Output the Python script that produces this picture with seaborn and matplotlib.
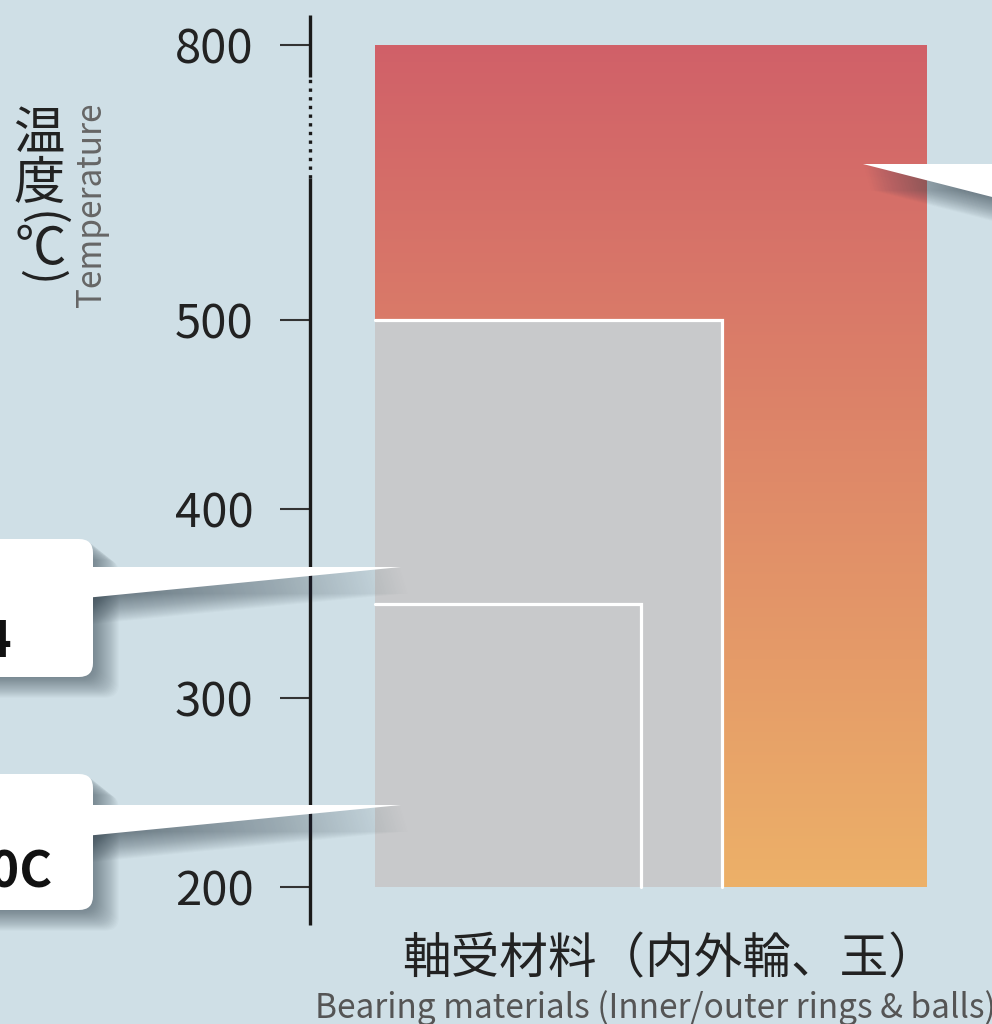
import numpy as np
import seaborn as sns
import matplotlib.pyplot as plt
from matplotlib.colors import LinearSegmentedColormap
from matplotlib.patches import FancyBboxPatch, Polygon

# max operating temperature of each bearing material (deg C)
materials = ["SUS440C", "SKH4", "Si3N4"]
temp_max = [350, 500, 800]
temp_min = 200
yticks = [200, 300, 400, 500, 800]

BG = "#cfdfe6"
GRAY = "#c8c9cb"
INK = "#222222"

sns.set_theme(style="ticks", rc={"figure.facecolor": BG, "axes.facecolor": BG})
plt.rcParams['font.family'] = ['Noto Sans CJK JP', 'DejaVu Sans']

# broken axis: the 500-800 part is squeezed
K = 0.485
def fwd(v):
    v = np.asarray(v, float)
    return np.where(v <= 500, v, 500 + (v - 500) * K)

def inv(t):
    t = np.asarray(t, float)
    return np.where(t <= 500, t, 500 + (t - 500) / K)

fig = plt.figure(figsize=(9.92, 10.24), dpi=100)
ax = fig.add_axes([310 / 992, 99 / 1024, 682 / 992, 910 / 1024])
ax.set_yscale('function', functions=(fwd, inv))
ax.set_xlim(0, 682)
ax.set_ylim(179.9, 832.8)

bar_left = 65
bar_right = [331, 412, 617]

# gradient bar (top material), colour linear in screen height
t = np.linspace(fwd(temp_min), fwd(temp_max[2]), 300)
cmap = LinearSegmentedColormap.from_list("heat", ["#ecb068", "#d06068"])
ax.pcolormesh([bar_left, bar_right[2]], inv(t), ((t[:-1] + t[1:]) / 2)[:, None],
              cmap=cmap, shading='flat', zorder=1)

# grey bars with white top/right outline
for i in [1, 0]:
    w = bar_right[i] - bar_left
    ax.bar(bar_left, temp_max[i] - temp_min, bottom=temp_min, width=w,
           align='edge', color=GRAY, linewidth=0, zorder=2)
    ax.plot([bar_left, bar_right[i], bar_right[i]], [temp_max[i], temp_max[i], temp_min],
            color='white', lw=2.3, solid_joinstyle='miter', zorder=3)

# axis line with a dotted break
sns.despine(ax=ax, left=True, bottom=True)
ax.plot([0, 0], [0, 0.8209], transform=ax.transAxes, color='#1a1a1a', lw=2.4,
        solid_capstyle='butt', clip_on=False)
ax.plot([0, 0], [0.9319, 1], transform=ax.transAxes, color='#1a1a1a', lw=2.4,
        solid_capstyle='butt', clip_on=False)
ax.plot([0, 0], [0.8209, 0.9319], transform=ax.transAxes, color='#1a1a1a', lw=2.4,
        linestyle=(0, (1, 1.6)), dash_capstyle='butt', clip_on=False)

ax.set_yticks(yticks)
ax.set_yticklabels([str(v) for v in yticks])
ax.minorticks_off()
ax.tick_params(axis='y', length=21.6, width=1.5, color='#333333', pad=19,
               labelsize=34, labelcolor=INK)
ax.set_xticks([])

# overlay in pixel coordinates for callouts and labels
ov = fig.add_axes([0, 0, 1, 1], zorder=5)
ov.set_xlim(0, 992)
ov.set_ylim(1024, 0)
ov.axis('off')
ov.patch.set_alpha(0)

def callout(box, wedge, label=None, lx=0, ly=0):
    wedge = np.array(wedge, float)
    # soft drop shadow from many faint offset copies
    for i in range(26):
        d = 1 + i * 1.0
        if box is not None:
            x0, y0, x1, y1 = box
            ov.add_patch(FancyBboxPatch((x0 + d, y0 + d * 0.8), x1 - x0, y1 - y0,
                                        boxstyle="round,pad=0,rounding_size=14",
                                        fc="#2e3d48", ec='none', alpha=0.025))
        ov.add_patch(Polygon(wedge + [d * 0.3, d], closed=True, fc="#2e3d48",
                             ec='none', alpha=0.028))
    if box is not None:
        x0, y0, x1, y1 = box
        ov.add_patch(FancyBboxPatch((x0, y0), x1 - x0, y1 - y0,
                                    boxstyle="round,pad=0,rounding_size=14",
                                    fc="white", ec='none'))
    ov.add_patch(Polygon(wedge, closed=True, fc="white", ec='none'))
    if label:
        ov.text(lx, ly, label, ha='right', va='baseline', fontsize=36,
                fontweight='bold', color='#111111')

callout((-60, 539, 93, 677), [(85, 567), (401, 567), (85, 598)], materials[1], 12, 657)
callout((-60, 774, 93, 910), [(85, 805), (401, 805), (85, 836)], materials[0], 53, 888)
callout(None, [(863, 164), (1000, 164), (1000, 199)])

# y label, vertical Japanese + rotated English
ov.text(39, 134, "温", ha='center', va='center', fontsize=37, color=INK)
ov.text(39, 184, "度", ha='center', va='center', fontsize=37, color=INK)
ov.text(41, 219, "(", ha='center', va='center', fontsize=34, color=INK, rotation=-90)
ov.text(40, 249, "℃", ha='center', va='center', fontsize=37, color=INK)
ov.text(41, 278, ")", ha='center', va='center', fontsize=34, color=INK, rotation=-90)
ov.text(92, 205, "Temperature", ha='center', va='center', fontsize=24,
        color='#666666', rotation=90)

# x label
ov.text(670, 960, "軸受材料（内外輪、玉）", ha='center', va='center', fontsize=35, color=INK)
ov.text(655, 1008, "Bearing materials (Inner/outer rings & balls)", ha='center',
        va='center', fontsize=24, color='#555555')

fig.savefig("out.png", dpi=100, facecolor=BG)
